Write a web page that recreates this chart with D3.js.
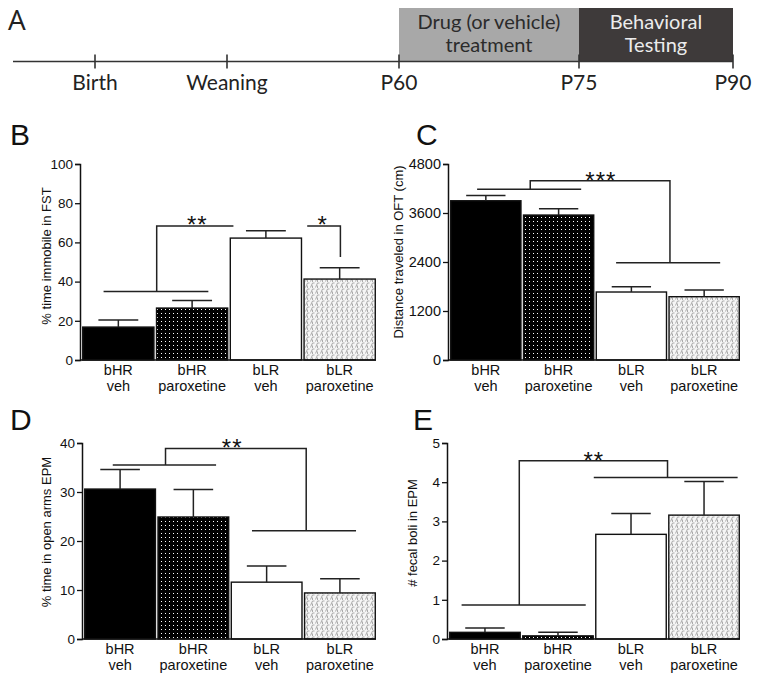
<!DOCTYPE html>
<html lang="en">
<head>
<meta charset="UTF-8">
<title>bHR / bLR paroxetine</title>
<script src="https://cdn.jsdelivr.net/npm/d3@7"></script>
<style>
  body { margin: 0; background: #fff; }
  svg { display: block; }
  .panel text { font-family: Arial, "Liberation Sans", Helvetica, sans-serif; fill: #111; }
  .timeline text { font-family: Lato, "Open Sans", sans-serif; }
</style>
</head>
<body>
<svg id="chart" width="760" height="683"></svg>
<script>
// timeline (panel A)
var tlEvents = ["Birth", "Weaning", "P60", "P75", "P90"];
var tlDays = [0, 21, 60, 75, 90];
var tlPhases = [
  { from: 60, to: 75, lines: ["Drug (or vehicle)", "treatment"] },
  { from: 75, to: 90, lines: ["Behavioral", "Testing"] }
];

// bar groups
var groups = ["bHR", "bHR", "bLR", "bLR"];
var treatments = ["veh", "paroxetine", "veh", "paroxetine"];

// B: forced swim test
var fstMean = [16.8, 26.5, 62.2, 41.3];
var fstErr = [3.6, 3.8, 3.8, 5.8];
var fstTicks = [0, 20, 40, 60, 80, 100];
var fstBrackets = [
  [[-0.2, 35], [1.22, 35]],
  [[0.52, 35], [0.52, 68.4], [1.56, 68.4]],
  [[2.56, 68.4], [3.01, 68.4], [3.01, 52.5]]
];
var fstStars = [{ i: 1.07, v: 71.4, t: "**" }, { i: 2.77, v: 71.4, t: "*" }];

// C: open field test
var oftMean = [3900, 3550, 1665, 1550];
var oftErr = [130, 155, 130, 165];
var oftTicks = [0, 1200, 2400, 3600, 4800];
var oftBrackets = [
  [[-0.12, 4180], [1.31, 4180]],
  [[0.61, 4180], [0.61, 4391], [2.53, 4391], [2.53, 2383]],
  [[1.79, 2383], [3.22, 2383]]
];
var oftStars = [{ i: 1.58, v: 4506, t: "***" }];

// D: elevated plus maze, open arms
var epmMean = [30.6, 24.9, 11.6, 9.4];
var epmErr = [4.0, 5.6, 3.3, 2.9];
var epmTicks = [0, 10, 20, 30, 40];
var epmBrackets = [
  [[-0.1, 35.5], [1.31, 35.5]],
  [[0.62, 35.5], [0.62, 38.9], [2.54, 38.9], [2.54, 22.1]],
  [[1.8, 22.1], [3.22, 22.1]]
];
var epmStars = [{ i: 1.53, v: 40.1, t: "**" }];

// E: fecal boli
var boliMean = [0.17, 0.08, 2.67, 3.16];
var boliErr = [0.11, 0.09, 0.53, 0.86];
var boliTicks = [0, 1, 2, 3, 4, 5];
var boliBrackets = [
  [[-0.32, 0.87], [1.38, 0.87]],
  [[0.47, 0.87], [0.47, 4.55], [2.5, 4.55], [2.5, 4.12]],
  [[1.49, 4.12], [3.46, 4.12]]
];
var boliStars = [{ i: 1.49, v: 4.66, t: "**" }];

var fills = ["#000", "url(#dots)", "#fff", "url(#hatch)"];
var sansFont = "Arial, 'Liberation Sans', Helvetica, sans-serif";

var svg = d3.select("#chart");

// patterns
var defs = svg.append("defs");
var dots = defs.append("pattern").attr("id", "dots")
  .attr("patternUnits", "userSpaceOnUse").attr("width", 4).attr("height", 4);
dots.append("rect").attr("width", 4).attr("height", 4).attr("fill", "#000");
dots.append("rect").attr("x", 1).attr("y", 1).attr("width", 1).attr("height", 1).attr("fill", "#fff");

var hatch = defs.append("pattern").attr("id", "hatch")
  .attr("patternUnits", "userSpaceOnUse").attr("width", 5).attr("height", 6);
hatch.append("rect").attr("width", 5).attr("height", 6).attr("fill", "#f6f6f6");
hatch.append("path").attr("d", "M0.5,5.5 L2.5,1 L4.5,1 M2.5,3.5 L2.5,6")
  .attr("fill", "none").attr("stroke", "#a3a3a3").attr("stroke-width", 0.9);

// ---- panel A: timeline ----
var tl = svg.append("g").attr("class", "timeline");
var tx = d3.scaleLinear().domain(tlDays).range([95, 227, 399, 579, 733]);
var lineY = 61.5;

tl.selectAll("rect.phase").data(tlPhases).join("rect")
  .attr("class", "phase")
  .attr("x", function (d) { return tx(d.from); })
  .attr("y", 8)
  .attr("width", function (d) { return tx(d.to) - tx(d.from); })
  .attr("height", lineY - 8)
  .attr("fill", function (d, i) { return i === 0 ? "#a8a8a8" : "#3e3a3a"; });

tlPhases.forEach(function (p, pi) {
  tl.append("text")
    .attr("x", (tx(p.from) + tx(p.to)) / 2)
    .attr("text-anchor", "middle")
    .attr("font-size", 20)
    .attr("fill", pi === 0 ? "#2b2b2b" : "#ececec")
    .selectAll("tspan").data(p.lines).join("tspan")
    .attr("x", (tx(p.from) + tx(p.to)) / 2)
    .attr("y", function (d, i) { return 29 + i * 23; })
    .text(function (d) { return d; });
});

tl.append("line")
  .attr("x1", 13).attr("x2", tx(90))
  .attr("y1", lineY).attr("y2", lineY)
  .attr("stroke", "#333").attr("stroke-width", 1.6);

tl.selectAll("line.tick").data(tlDays).join("line")
  .attr("class", "tick")
  .attr("x1", function (d) { return tx(d); }).attr("x2", function (d) { return tx(d); })
  .attr("y1", lineY - 7).attr("y2", lineY + 7)
  .attr("stroke", "#333").attr("stroke-width", 1.6);

tl.selectAll("text.ev").data(tlEvents).join("text")
  .attr("class", "ev")
  .attr("x", function (d, i) { return tx(tlDays[i]); })
  .attr("y", 90)
  .attr("text-anchor", "middle")
  .attr("font-size", 21)
  .attr("fill", "#222")
  .text(function (d) { return d; });

svg.append("text").attr("x", 8).attr("y", 30)
  .attr("font-family", "'Open Sans', sans-serif").attr("font-size", 28).attr("fill", "#222")
  .text("A");

// ---- bar panels ----
function drawPanel(o) {
  var g = svg.append("g").attr("class", "panel");
  var y = d3.scaleLinear().domain([0, o.max]).range([o.y0, o.y1]);
  var x = d3.scaleBand().domain(d3.range(4)).range([o.axisX + 2, o.right])
    .paddingInner(0.035).paddingOuter(0.01);
  var bw = x.bandwidth();
  var xi = function (i) { return x(0) + bw / 2 + i * x.step(); };

  // bars
  g.selectAll("rect.bar").data(o.mean).join("rect")
    .attr("class", "bar")
    .attr("x", function (d, i) { return x(i); })
    .attr("y", function (d) { return y(d); })
    .attr("width", bw)
    .attr("height", function (d) { return y(0) - y(d); })
    .attr("fill", function (d, i) { return fills[i]; })
    .attr("stroke", "#111").attr("stroke-width", 1.4);

  // error bars (upper only)
  var eb = g.selectAll("g.err").data(o.mean).join("g").attr("class", "err");
  eb.append("line")
    .attr("x1", function (d, i) { return xi(i); }).attr("x2", function (d, i) { return xi(i); })
    .attr("y1", function (d) { return y(d); })
    .attr("y2", function (d, i) { return y(d + o.err[i]); })
    .attr("stroke", "#222").attr("stroke-width", 1.5);
  eb.append("line")
    .attr("x1", function (d, i) { return xi(i) - bw * 0.28; })
    .attr("x2", function (d, i) { return xi(i) + bw * 0.28; })
    .attr("y1", function (d, i) { return y(d + o.err[i]); })
    .attr("y2", function (d, i) { return y(d + o.err[i]); })
    .attr("stroke", "#222").attr("stroke-width", 1.5);

  // axes
  var ax = g.append("g").attr("transform", "translate(" + o.axisX + ",0)")
    .call(d3.axisLeft(y).tickValues(o.ticks).tickSize(5).tickPadding(2).tickFormat(d3.format("d")));
  ax.attr("font-family", sansFont);
  ax.select(".domain").attr("stroke", "#111").attr("stroke-width", 1.5);
  ax.selectAll(".tick line").attr("stroke", "#111").attr("stroke-width", 1.3);
  ax.selectAll(".tick text").attr("font-size", o.tickSize || 13.5).attr("fill", "#222");

  g.append("line")
    .attr("x1", o.axisX).attr("x2", o.right)
    .attr("y1", y(0)).attr("y2", y(0))
    .attr("stroke", "#111").attr("stroke-width", 1.5);

  // category labels
  var lab = g.selectAll("text.cat").data(groups).join("text")
    .attr("class", "cat")
    .attr("text-anchor", "middle")
    .attr("font-size", 14.5);
  lab.append("tspan")
    .attr("x", function (d, i) { return xi(i); })
    .attr("y", y(0) + 15)
    .text(function (d) { return d; });
  lab.append("tspan")
    .attr("x", function (d, i) { return xi(i); })
    .attr("y", y(0) + 31)
    .text(function (d, i) { return treatments[i]; });

  // y label
  g.append("text")
    .attr("transform", "translate(" + o.labelX + "," + o.labelY + ") rotate(-90)")
    .attr("text-anchor", "middle")
    .attr("font-size", 13)
    .attr("fill", "#222")
    .text(o.label);

  // significance brackets
  var line = d3.line().x(function (p) { return xi(p[0]); }).y(function (p) { return y(p[1]); });
  g.selectAll("path.br").data(o.brackets).join("path")
    .attr("class", "br")
    .attr("d", line)
    .attr("fill", "none").attr("stroke", "#222").attr("stroke-width", 1.5);
  g.selectAll("text.star").data(o.stars).join("text")
    .attr("class", "star")
    .attr("x", function (d) { return xi(d.i); })
    .attr("y", function (d) { return y(d.v) + 13; })
    .attr("text-anchor", "middle")
    .attr("font-size", 24)
    .attr("letter-spacing", 1)
    .text(function (d) { return d.t; });

  // panel letter
  svg.append("text")
    .attr("x", o.letterX).attr("y", o.letterY)
    .attr("font-family", sansFont)
    .attr("font-size", 30).attr("fill", "#111")
    .text(o.letter);
}

drawPanel({ letter: "B", letterX: 10, letterY: 145, mean: fstMean, err: fstErr, max: 100, ticks: fstTicks,
  y0: 360, y1: 164, axisX: 80, right: 376, label: "% time immobile in FST", labelX: 51, labelY: 256,
  brackets: fstBrackets, stars: fstStars });
drawPanel({ letter: "C", letterX: 416, letterY: 145, mean: oftMean, err: oftErr, max: 4800, ticks: oftTicks,
  y0: 360, y1: 164, axisX: 448, right: 740, label: "Distance traveled in OFT (cm)", labelX: 403, labelY: 252,
  brackets: oftBrackets, stars: oftStars, tickSize: 14.5 });
drawPanel({ letter: "D", letterX: 10, letterY: 430, mean: epmMean, err: epmErr, max: 40, ticks: epmTicks,
  y0: 639, y1: 443, axisX: 82, right: 376, label: "% time in open arms EPM", labelX: 51, labelY: 532,
  brackets: epmBrackets, stars: epmStars });
drawPanel({ letter: "E", letterX: 413, letterY: 430, mean: boliMean, err: boliErr, max: 5, ticks: boliTicks,
  y0: 639, y1: 443, axisX: 447, right: 740, label: "# fecal boli in EPM", labelX: 417, labelY: 533,
  brackets: boliBrackets, stars: boliStars });
</script>
</body>
</html>
